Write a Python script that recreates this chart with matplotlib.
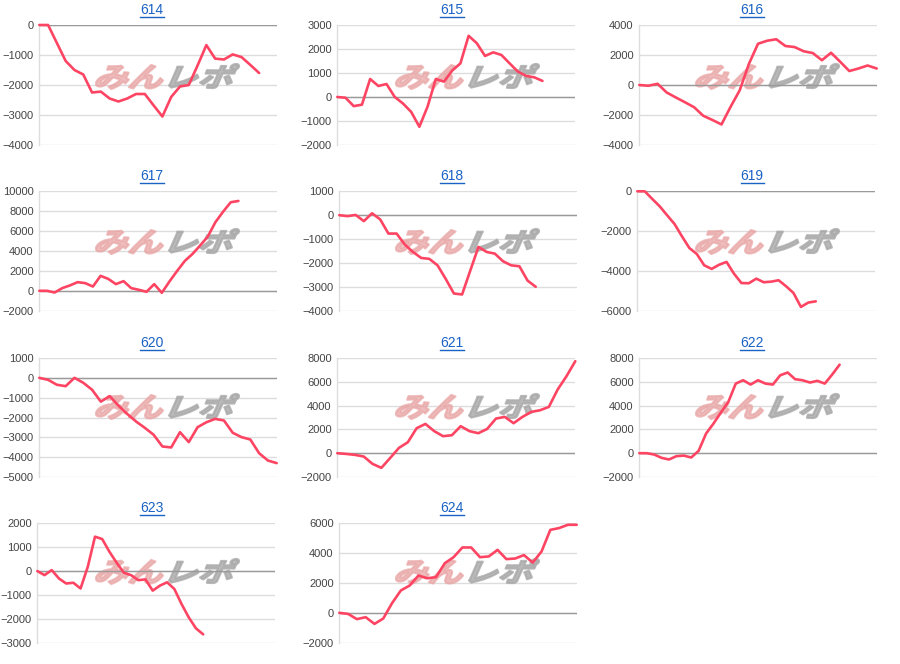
import matplotlib
matplotlib.use('Agg')
import matplotlib.pyplot as plt
from matplotlib.textpath import TextPath
from matplotlib.patches import PathPatch
from matplotlib.font_manager import FontProperties
from matplotlib.transforms import Affine2D, IdentityTransform
from matplotlib.lines import Line2D

W, H = 900, 664

titles = ['614', '615', '616', '617', '618', '619', '620', '621', '622', '623', '624']

v614 = [0, 0, -600, -1200, -1500, -1650, -2250, -2220, -2450, -2550, -2450, -2300, -2300,
        -2680, -3050, -2400, -2050, -2000, -1350, -670, -1120, -1150, -980, -1070, -1330, -1600]
v615 = [0, -30, -380, -320, 750, 460, 540, 0, -270, -620, -1240, -400, 750, 640, 1100, 1400,
        2550, 2240, 1710, 1860, 1750, 1400, 1060, 880, 820, 670]
v616 = [0, -50, 80, -500, -830, -1150, -1480, -2050, -2330, -2630, -1450, -350, 1400, 2750,
        2950, 3050, 2600, 2530, 2250, 2130, 1650, 2150, 1550, 930, 1100, 1300, 1100]
v617 = [0, 0, -170, 270, 540, 870, 770, 430, 1500, 1200, 670, 970, 270, 100, -100, 670, -200,
        940, 2000, 3000, 3700, 4550, 5450, 6900, 7950, 8900, 9030]
v618 = [0, -40, 10, -250, 80, -180, -770, -770, -1230, -1540, -1790, -1830, -2100, -2670,
        -3280, -3320, -2320, -1330, -1540, -1610, -1930, -2100, -2140, -2740, -3000]
v619 = [0, 0, -380, -750, -1200, -1640, -2260, -2850, -3150, -3720, -3900, -3690, -3550,
        -4140, -4610, -4620, -4390, -4570, -4540, -4470, -4770, -5110, -5810, -5590, -5530]
v620 = [0, -100, -350, -420, 0, -250, -600, -1200, -920, -1400, -1820, -2200, -2520, -2870,
        -3460, -3510, -2740, -3240, -2490, -2240, -2070, -2150, -2770, -2990, -3110, -3800,
        -4170, -4300]
v621 = [0, -60, -140, -280, -900, -1230, -400, 450, 920, 2100, 2460, 1850, 1430, 1510, 2270,
        1850, 1680, 2040, 2910, 3050, 2520, 3050, 3470, 3610, 3890, 5350, 6470, 7730]
v622 = [0, 0, -110, -390, -530, -250, -200, -360, 200, 1650, 2490, 3420, 4310, 5850, 6130,
        5770, 6130, 5850, 5770, 6550, 6780, 6220, 6130, 5940, 6080, 5850, 6610, 7440]
v623 = [0, -170, 40, -310, -520, -490, -730, 180, 1440, 1340, 810, 350, -70, -170, -380, -350,
        -820, -610, -470, -750, -1380, -1940, -2400, -2650]
v624 = [0, -70, -420, -290, -740, -380, 650, 1500, 1830, 2500, 2320, 2390, 3330, 3730, 4380,
        4380, 3730, 3780, 4220, 3600, 3640, 3870, 3370, 4110, 5560, 5680, 5900, 5900]

series = [v614, v615, v616, v617, v618, v619, v620, v621, v622, v623, v624]

# number of x slots on each chart's axis
slots = [28, 30, 27, 32, 30, 33, 28, 28, 33, 34, 28]

# (min, max, step) of the y axis
yaxes = [(-4000, 0, 1000), (-2000, 3000, 1000), (-4000, 4000, 2000), (-2000, 10000, 2000),
         (-4000, 1000, 1000), (-6000, 0, 2000), (-5000, 1000, 1000), (-2000, 8000, 2000),
         (-2000, 8000, 2000), (-3000, 2000, 1000), (-2000, 6000, 2000)]

# plot areas in pixels: left, top, right, bottom
boxes = [(39.3, 25, 276.7, 145), (337.3, 25, 575.3, 145), (639.3, 25, 876.7, 145),
         (39.3, 191.3, 276.7, 310.7), (339.3, 191.3, 576.7, 310.7), (637.3, 191.3, 875.3, 310.7),
         (39.3, 358, 276.7, 477), (337.3, 358, 575.3, 477), (639.3, 358, 876.7, 477),
         (37.3, 523.3, 275.3, 642.7), (339.3, 523.3, 576.7, 642.7)]

line_color = '#fd4563'
title_color = '#1a62c4'

fig = plt.figure(figsize=(W / 100, H / 100), dpi=100)
fig.patch.set_facecolor('white')

logo_fp = FontProperties(family='Noto Sans CJK JP', weight='bold')


def add_logo(ax, text, color, alpha, box):
    x0, y0, x1, y1 = box
    tp = TextPath((0, 0), text, size=1, prop=logo_fp)
    tp = Affine2D().skew_deg(18, 0).transform_path(tp)
    ext = tp.get_extents()
    sx = (x1 - x0 - 2) / ext.width
    sy = (y1 - y0 - 2) / ext.height
    tr = Affine2D().translate(-ext.x0, -ext.y0).scale(sx, sy).translate(x0 + 1, H - y1 + 1)
    p = PathPatch(tp, transform=tr, fc=color, ec=color, lw=1.6, joinstyle='round',
                  alpha=alpha, zorder=1, clip_on=False)
    ax.add_artist(p)


title_texts = []
for k in range(len(series)):
    l, t, r, b = boxes[k]
    ax = fig.add_axes([l / W, 1 - b / H, (r - l) / W, (b - t) / H])
    ax.set_facecolor('none')
    ymin, ymax, step = yaxes[k]
    vals = series[k]
    ax.plot(range(len(vals)), vals, color=line_color, lw=1.9, zorder=3,
            solid_joinstyle='round', solid_capstyle='round', clip_on=False)
    ax.set_xlim(0, slots[k] - 1)
    ax.set_ylim(ymin, ymax)
    ax.set_yticks(range(ymin, ymax + 1, step))
    ax.set_xticks([])
    ax.yaxis.grid(True, color='#dddddd', lw=1, zorder=0)
    ax.set_axisbelow(True)
    ax.axhline(0, color='#9a9a9a', lw=1, zorder=2)
    for s in ['top', 'right', 'bottom']:
        ax.spines[s].set_visible(False)
    ax.spines['left'].set_color('#dddddd')
    ax.spines['left'].set_linewidth(1)
    ax.tick_params(axis='y', length=0, pad=4, labelsize=8, labelcolor='#444444')
    for lab in ax.get_yticklabels():
        lab.set_fontfamily('Liberation Sans')

    # watermark, fixed inside each chart cell
    col, row = k % 3, k // 3
    cx, cy = col * 300, [0, 165, 330, 495][row]
    add_logo(ax, 'みん', '#e9a6a6', 0.75, (cx + 95, cy + 64, cx + 164, cy + 90))
    add_logo(ax, 'レポ', '#a8a8a8', 0.8, (cx + 168, cy + 63, cx + 240, cy + 89))

    tt = fig.text((cx + 152) / W, 1 - (t - 15) / H, titles[k], ha='center', va='center',
                  color=title_color, fontsize=10, fontfamily='Liberation Sans')
    title_texts.append(tt)

# underline the titles like links
fig.canvas.draw()
for tt in title_texts:
    bb = tt.get_window_extent()
    fig.add_artist(Line2D([bb.x0, bb.x1], [bb.y0 + 0.5, bb.y0 + 0.5], color=title_color,
                          lw=1, transform=IdentityTransform()))

fig.savefig('out.png', dpi=100, facecolor='white')
